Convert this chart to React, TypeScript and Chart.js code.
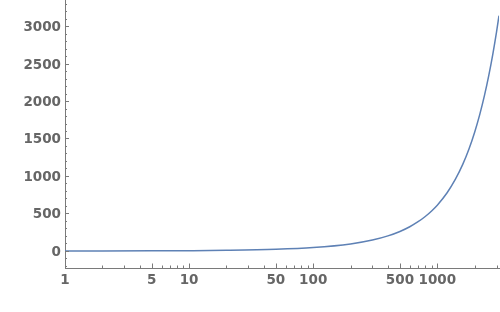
import React, { useEffect, useRef } from "react";
import { Chart, registerables } from "chart.js";

Chart.register(...registerables);

const xValues = [1, 2, 5, 10, 20, 50, 100, 200, 300, 400, 500, 600, 700, 800, 900, 1000, 1200, 1400, 1600, 1800, 2000, 2200, 2400, 2600, 2800, 3000, 3142];
const yValues = [0.4, 0.9, 2.2, 4.3, 8.7, 22, 45, 93, 145, 201, 260, 323, 390, 460, 534, 611, 777, 957, 1151, 1360, 1584, 1822, 2075, 2342, 2623, 2919, 3138];

const xLabelTicks = [1, 5, 10, 50, 100, 500, 1000];
const yLabelTicks = [0, 500, 1000, 1500, 2000, 2500, 3000];

const X_MIN = 1;
const X_MAX = 3142;
const Y_MIN = -227;
const Y_MAX = 3347;

const LINE_COLOR = "#5E81B5";
const AXIS_COLOR = "#7a7a7a";
const LABEL_COLOR = "#666666";

function buildXTicks() {
  const t: { value: number }[] = [];
  for (let e = 0; e <= 3; e++) {
    for (let m = 1; m <= 9; m++) {
      const v = m * Math.pow(10, e);
      if (v >= X_MIN && v <= X_MAX) t.push({ value: v });
    }
  }
  return t;
}

function buildYTicks() {
  const t: { value: number }[] = [];
  for (let v = -200; v <= 3300; v += 100) t.push({ value: v });
  return t;
}

const tickPlugin = {
  id: "innerTicks",
  afterDraw(chart: any) {
    const ctx = chart.ctx;
    const xs = chart.scales.x;
    const ys = chart.scales.y;
    const area = chart.chartArea;
    ctx.save();
    ctx.strokeStyle = AXIS_COLOR;
    ctx.lineWidth = 1;
    ctx.beginPath();
    for (const t of xs.ticks) {
      const px = Math.round(xs.getPixelForValue(t.value)) + 0.5;
      const major = xLabelTicks.includes(t.value);
      const len = major ? 4.5 : 2.5;
      ctx.moveTo(px, area.bottom);
      ctx.lineTo(px, area.bottom - len);
    }
    for (const t of ys.ticks) {
      const py = Math.round(ys.getPixelForValue(t.value)) + 0.5;
      const major = t.value % 500 === 0;
      const len = major ? 4 : 2;
      ctx.moveTo(area.left, py);
      ctx.lineTo(area.left + len, py);
    }
    ctx.stroke();
    ctx.restore();
  },
};

export default function App() {
  const canvasRef = useRef<HTMLCanvasElement | null>(null);

  useEffect(() => {
    if (!canvasRef.current) return;
    const data = xValues.map((x, i) => ({ x, y: yValues[i] }));
    const font = { family: "DejaVu Sans", size: 13.5, weight: "bold" as const };
    const chart = new Chart(canvasRef.current, {
      type: "scatter",
      data: {
        datasets: [
          {
            data,
            showLine: true,
            borderColor: LINE_COLOR,
            backgroundColor: LINE_COLOR,
            borderWidth: 1.5,
            pointRadius: 0,
            tension: 0.4,
            cubicInterpolationMode: "monotone",
          },
        ],
      },
      options: {
        animation: false,
        responsive: false,
        maintainAspectRatio: false,
        layout: { padding: { top: 0, right: 1, left: 0, bottom: 0 } },
        plugins: { legend: { display: false }, tooltip: { enabled: false } },
        scales: {
          x: {
            type: "logarithmic",
            min: X_MIN,
            max: X_MAX,
            grid: { display: false, drawTicks: false },
            border: { display: true, color: AXIS_COLOR, width: 1 },
            afterBuildTicks: (scale: any) => {
              scale.ticks = buildXTicks();
            },
            afterFit: (scale: any) => {
              scale.height = 44;
              scale.paddingLeft = 0;
              scale.paddingRight = 0;
            },
            ticks: {
              autoSkip: false,
              maxRotation: 0,
              padding: 4,
              color: LABEL_COLOR,
              font,
              callback: (v: any) => (xLabelTicks.includes(Number(v)) ? String(v) : ""),
            },
          },
          y: {
            type: "linear",
            min: Y_MIN,
            max: Y_MAX,
            grid: { display: false, drawTicks: false },
            border: { display: true, color: AXIS_COLOR, width: 1 },
            afterBuildTicks: (scale: any) => {
              scale.ticks = buildYTicks();
            },
            afterFit: (scale: any) => {
              scale.width = 65;
              scale.paddingTop = 0;
              scale.paddingBottom = 0;
            },
            ticks: {
              autoSkip: false,
              padding: 4,
              labelOffset: 1.5,
              color: LABEL_COLOR,
              font,
              callback: (v: any) => (yLabelTicks.includes(Number(v)) ? String(v) : ""),
            },
          },
        },
      },
      plugins: [tickPlugin],
    } as any);
    return () => chart.destroy();
  }, []);

  return (
    <div style={{ position: "fixed", left: 0, top: 0, width: 500, height: 312, background: "#fff" }}>
      <canvas ref={canvasRef} width={500} height={312} style={{ width: 500, height: 312 }} />
    </div>
  );
}
